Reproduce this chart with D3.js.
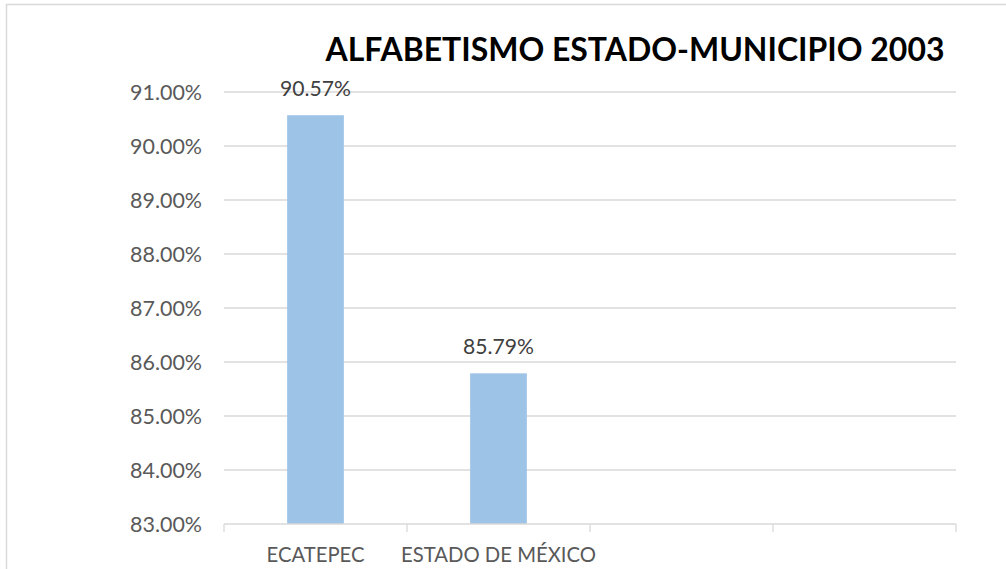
<!DOCTYPE html>
<html>
<head>
<meta charset="utf-8">
<script src="https://cdn.jsdelivr.net/npm/d3@7"></script>
<style>
  body { margin: 0; background: #fff; }
  svg { display: block; font-family: Lato, "Open Sans", sans-serif; }
</style>
</head>
<body>
<svg id="chart" width="1006" height="569"></svg>
<script>
// data
var categories = ["ECATEPEC", "ESTADO DE MÉXICO", "", ""];
var values = [90.57, 85.79, null, null];
var tick_values = [83, 84, 85, 86, 87, 88, 89, 90, 91];
var title = "ALFABETISMO ESTADO-MUNICIPIO 2003";

var svg = d3.select("#chart");
var plot_left = 224, plot_right = 956, plot_top = 92, plot_bottom = 524;

// size a font so a sample text gets the wanted width
function fit_size(sample, want, weight){
    var t = svg.append("text").style("font-size", "20px").style("font-weight", weight || "normal").text(sample);
    var w = t.node().getComputedTextLength();
    t.remove();
    return 20 * want / w;
}
var tick_fs = fit_size("91.00%", 72);
var val_fs = fit_size("90.57%", 71);
var cat_fs = fit_size("ESTADO DE MÉXICO", 195);
var title_fs = fit_size(title, 619, "bold");

// outer chart border (runs off the right/bottom of the window)
svg.append("rect")
  .attr("x", 6.5).attr("y", 4.5)
  .attr("width", 1100).attr("height", 700)
  .attr("fill", "none").attr("stroke", "#d9d9d9").attr("stroke-width", 1.5);

var x = d3.scaleBand().domain(d3.range(categories.length)).range([plot_left, plot_right]);
var y = d3.scaleLinear().domain([83, 91]).range([plot_bottom, plot_top]);

// gridlines
svg.append("g").selectAll("line")
  .data(tick_values.slice(1))
  .join("line")
  .attr("x1", plot_left).attr("x2", plot_right)
  .attr("y1", d => y(d)).attr("y2", d => y(d))
  .attr("stroke", "#d9d9d9").attr("stroke-width", 1.3);

// y labels
svg.append("g").selectAll("text")
  .data(tick_values)
  .join("text")
  .attr("x", 202)
  .attr("y", d => y(d) + 7.5)
  .attr("text-anchor", "end")
  .attr("fill", "#595959")
  .style("font-size", tick_fs + "px")
  .text(d => d.toFixed(2) + "%");

// bars
var bw = x.bandwidth() * 0.31;
var bars = values.map((v, i) => ({v: v, i: i})).filter(d => d.v != null);
svg.append("g").selectAll("rect")
  .data(bars)
  .join("rect")
  .attr("x", d => x(d.i) + x.bandwidth() / 2 - bw / 2)
  .attr("width", bw)
  .attr("y", d => y(d.v))
  .attr("height", d => y(83) - y(d.v))
  .attr("fill", "#9dc3e6");

// value labels
svg.append("g").selectAll("text")
  .data(bars)
  .join("text")
  .attr("x", d => x(d.i) + x.bandwidth() / 2)
  .attr("y", d => y(d.v) - 19)
  .attr("text-anchor", "middle")
  .attr("fill", "#404040")
  .style("font-size", val_fs + "px")
  .text(d => d.v.toFixed(2) + "%");

// x axis
var axis = d3.axisBottom(x).tickSize(0).tickFormat(i => categories[i]);
var gx = svg.append("g")
  .attr("transform", "translate(0," + plot_bottom + ")")
  .call(axis);
gx.select(".domain").remove();
gx.selectAll("text")
  .attr("fill", "#595959")
  .attr("dy", null)
  .attr("y", 38)
  .style("font-size", cat_fs + "px")
  .style("font-family", "Lato, 'Open Sans', sans-serif");

svg.append("line")
  .attr("x1", plot_left).attr("x2", plot_right)
  .attr("y1", plot_bottom).attr("y2", plot_bottom)
  .attr("stroke", "#d9d9d9").attr("stroke-width", 1.3);
svg.append("g").selectAll("line")
  .data(d3.range(categories.length + 1))
  .join("line")
  .attr("x1", i => plot_left + i * x.bandwidth()).attr("x2", i => plot_left + i * x.bandwidth())
  .attr("y1", plot_bottom).attr("y2", plot_bottom + 8)
  .attr("stroke", "#d9d9d9").attr("stroke-width", 1.3);

// title
svg.append("text")
  .attr("x", 635).attr("y", 61)
  .attr("text-anchor", "middle")
  .attr("fill", "#000")
  .style("font-weight", "bold")
  .style("font-size", title_fs + "px")
  .text(title);
</script>
</body>
</html>
